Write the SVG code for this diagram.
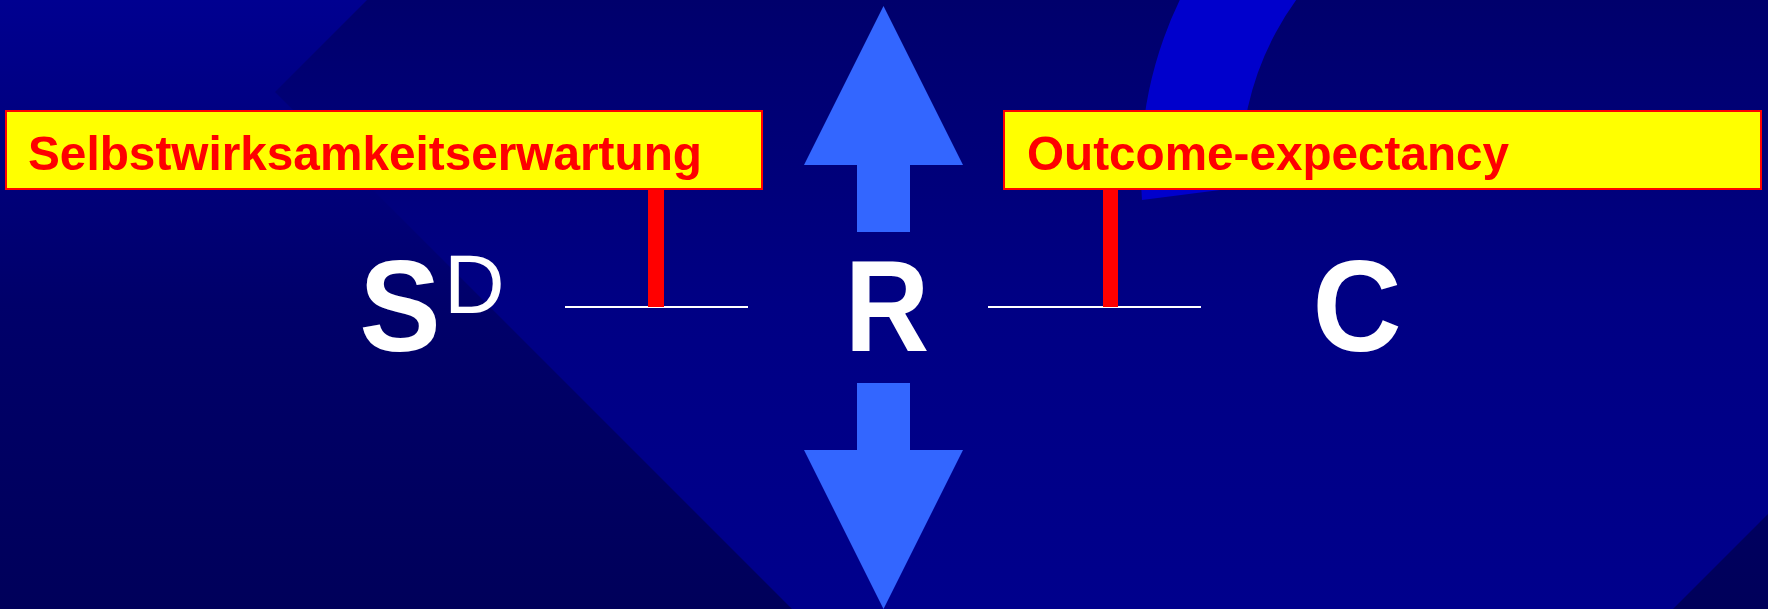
<svg xmlns="http://www.w3.org/2000/svg" width="1768" height="609" viewBox="0 0 1768 609">
  <defs>
    <linearGradient id="bgOut" x1="0" y1="0" x2="0" y2="609" gradientUnits="userSpaceOnUse">
      <stop offset="0" stop-color="#000090"/>
      <stop offset="0.5" stop-color="#00006A"/>
      <stop offset="1" stop-color="#00005A"/>
    </linearGradient>
    <linearGradient id="bgIn" x1="0" y1="0" x2="0" y2="609" gradientUnits="userSpaceOnUse">
      <stop offset="0" stop-color="#00006C"/>
      <stop offset="0.5" stop-color="#000084"/>
      <stop offset="1" stop-color="#00008C"/>
    </linearGradient>
    <style>
      .label-box { fill: #FFFF00; stroke: #FF0000; stroke-width: 2; }
      .label-text { font-family: "Liberation Sans", Arial, sans-serif; font-weight: bold; font-size: 49px; fill: #FF0000; }
      .big { font-family: "Liberation Sans", Arial, sans-serif; font-weight: bold; font-size: 130px; fill: #FFFFFF; }
      .sup { font-family: "Liberation Sans", Arial, sans-serif; font-weight: normal; font-size: 84px; fill: #FFFFFF; }
      .arrow { fill: #3366FF; }
      .line { stroke: #FFFFFF; stroke-width: 2; }
      .bar { fill: #FF0000; }
    </style>
  </defs>

  <!-- background -->
  <rect x="0" y="0" width="1768" height="609" fill="url(#bgOut)"/>
  <polygon points="275,92 1232.5,-865.5 2190,92 1232.5,1049.5" fill="url(#bgIn)"/>
  <path d="M 1142,200 A 390 390 0 0 1 1336,-168 L 1386,-81 A 290 290 0 0 0 1241.5,187.3 Z" fill="#0000CC"/>

  <!-- arrows -->
  <g id="arrow-up">
    <polygon class="arrow" points="883.5,6 963,165 910,165 910,232 857,232 857,165 804,165"/>
  </g>
  <g id="arrow-down">
    <polygon class="arrow" points="857,383 910,383 910,450 963,450 883.5,609 804,450 857,450"/>
  </g>

  <!-- label nodes -->
  <g id="label-selbstwirksamkeit">
    <rect class="label-box" x="6" y="111" width="756" height="78"/>
    <text class="label-text" x="28" y="169.5" textLength="674" lengthAdjust="spacingAndGlyphs">Selbstwirksamkeitserwartung</text>
  </g>
  <g id="label-outcome">
    <rect class="label-box" x="1004" y="111" width="757" height="78"/>
    <text class="label-text" x="1027" y="169.5" textLength="482" lengthAdjust="spacingAndGlyphs">Outcome-expectancy</text>
  </g>

  <!-- main nodes -->
  <g id="node-SD">
    <text class="big" x="400" y="351" text-anchor="middle" transform="translate(400,0) scale(0.94,1) translate(-400,0)">S</text>
    <text class="sup" x="444" y="313">D</text>
  </g>
  <g id="node-R">
    <text class="big" x="887" y="351" text-anchor="middle" transform="translate(888,0) scale(0.9,1) translate(-888,0)">R</text>
  </g>
  <g id="node-C">
    <text class="big" x="1357" y="351" text-anchor="middle" transform="translate(1357,0) scale(0.95,1) translate(-1357,0)">C</text>
  </g>

  <!-- connectors -->
  <g id="connectors">
    <line class="line" x1="565" y1="307" x2="748" y2="307"/>
    <line class="line" x1="988" y1="307" x2="1201" y2="307"/>
    <rect class="bar" x="648" y="188" width="16" height="119"/>
    <rect class="bar" x="1103" y="188" width="15" height="119"/>
  </g>
</svg>
